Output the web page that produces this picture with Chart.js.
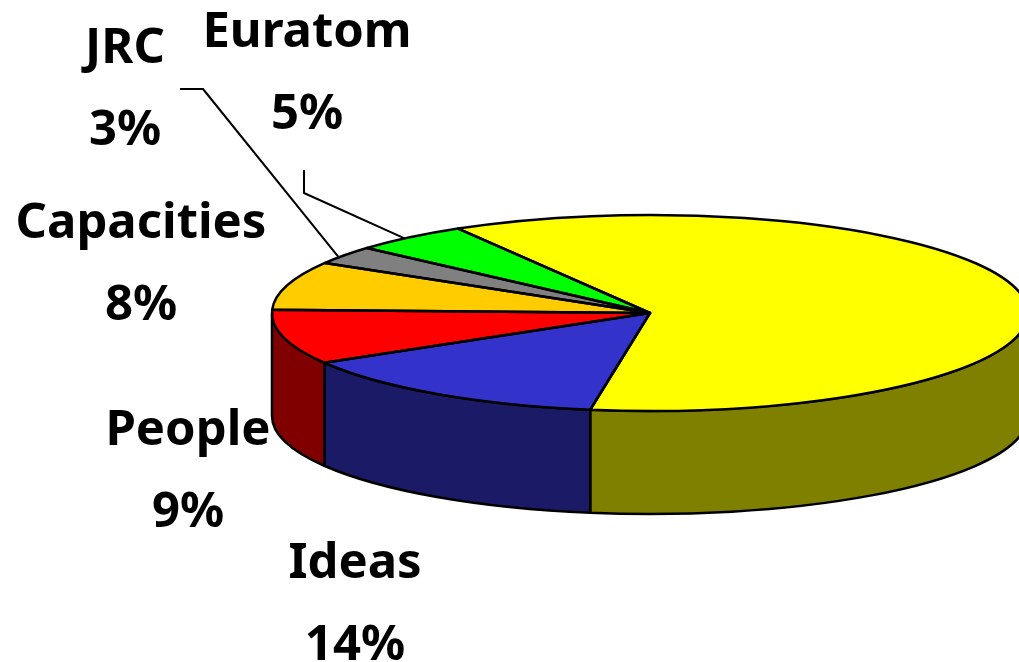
<!DOCTYPE html>
<html><head><meta charset="utf-8">
<style>html,body{margin:0;padding:0;background:#fff;overflow:hidden}canvas{display:block}</style>
<script src="https://cdn.jsdelivr.net/npm/chart.js@4"></script></head>
<body><canvas id="c" width="1019" height="662"></canvas>
<script>
const categories = ["Cooperation","Ideas","People","Capacities","JRC","Euratom"];
const shareValues = [61,14,9,8,3,5];
const topColors = ["#ffff00","#3333cc","#ff0000","#ffcc00","#808080","#00ff00"];
const sideColors = ["#808000","#1a1a66","#800000","#806600","#404040","#008000"];
const labelSlices = [null,{x:355,y:564},{x:188,y:431},{x:141,y:224},{x:125,y:49},{x:307,y:33}];
const leaders = [null,null,null,null,{x:180,y:89,ex:203,ey:89,tx:-5,ty:3},{x:304,y:170,ex:304,ey:193,tx:-5,ty:1}];
const PIE = {cx:650,cy:313,rx:378,ry:98,depth:103};
const FONT = 'bold 49px "Noto Sans"';

function geom(chart){
  const a = chart.getDatasetMeta(0).data[0];
  return {a, sx:PIE.rx/a.outerRadius, sy:PIE.ry/a.outerRadius};
}
const pie3d = {
  id:'pie3d',
  beforeDatasetsDraw(chart){
    const ctx = chart.ctx, {a,sx,sy} = geom(chart);
    const arcs = chart.getDatasetMeta(0).data;
    ctx.save(); ctx.lineWidth = 2.5; ctx.strokeStyle = '#000'; ctx.lineJoin='round';
    arcs.forEach((el,i)=>{
      const spans = [[Math.max(el.startAngle,0),Math.min(el.endAngle,Math.PI)],
                     [Math.max(el.startAngle,2*Math.PI),Math.min(el.endAngle,3*Math.PI)]];
      spans.forEach(([p,q])=>{
        if(q<=p) return;
        ctx.beginPath();
        ctx.ellipse(PIE.cx,PIE.cy,PIE.rx,PIE.ry,0,p,q,false);
        ctx.lineTo(PIE.cx+PIE.rx*Math.cos(q),PIE.cy+PIE.ry*Math.sin(q)+PIE.depth);
        ctx.ellipse(PIE.cx,PIE.cy+PIE.depth,PIE.rx,PIE.ry,0,q,p,true);
        ctx.closePath();
        ctx.fillStyle = sideColors[i];
        ctx.fill(); ctx.stroke();
      });
    });
    ctx.restore();
    ctx.save();
    ctx.translate(PIE.cx,PIE.cy); ctx.scale(sx,sy); ctx.translate(-a.x,-a.y);
  },
  afterDatasetsDraw(chart){
    const ctx = chart.ctx;
    ctx.restore();
    const arcs = chart.getDatasetMeta(0).data;
    ctx.save(); ctx.lineWidth = 2.5; ctx.strokeStyle = '#000'; ctx.lineJoin='round';
    arcs.forEach(el=>{
      ctx.beginPath();
      ctx.moveTo(PIE.cx,PIE.cy);
      ctx.ellipse(PIE.cx,PIE.cy,PIE.rx,PIE.ry,0,el.startAngle,el.endAngle,false);
      ctx.closePath(); ctx.stroke();
    });
    ctx.lineWidth = 2;
    arcs.forEach((el,i)=>{
      const L = leaders[i]; if(!L) return;
      const m = (el.startAngle+el.endAngle)/2;
      ctx.beginPath(); ctx.moveTo(L.x,L.y); ctx.lineTo(L.ex,L.ey);
      ctx.lineTo(PIE.cx+PIE.rx*Math.cos(m)+L.tx,PIE.cy+PIE.ry*Math.sin(m)+L.ty); ctx.stroke();
    });
    ctx.fillStyle='#000'; ctx.font=FONT; ctx.textAlign='center'; ctx.textBaseline='middle';
    arcs.forEach((el,i)=>{
      const P = labelSlices[i]; if(!P) return;
      ctx.fillText(categories[i],P.x,P.y);
      ctx.fillText(shareValues[i]+'%',P.x,P.y+82);
    });
    ctx.restore();
  }
};
new Chart(document.getElementById('c'),{
  type:'pie',
  data:{labels:categories,datasets:[{data:shareValues,backgroundColor:topColors,borderWidth:0}]},
  options:{responsive:false,animation:false,rotation:329.5,
    layout:{padding:0},
    plugins:{legend:{display:false},tooltip:{enabled:false},title:{display:false}}},
  plugins:[pie3d]
});
</script></body></html>
